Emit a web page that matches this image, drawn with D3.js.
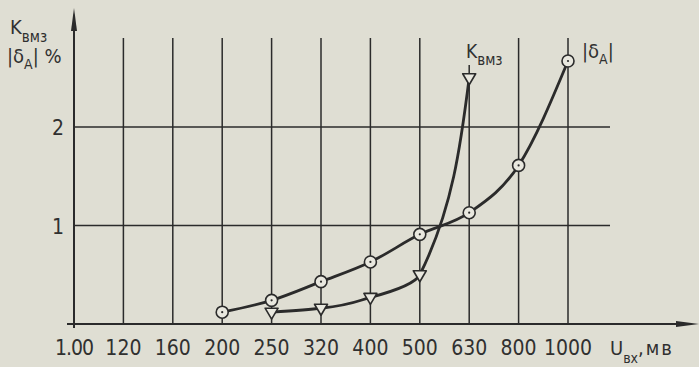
<!DOCTYPE html>
<html><head><meta charset="utf-8">
<script src="https://cdn.jsdelivr.net/npm/d3@7"></script>
<style>
html,body{margin:0;padding:0;background:#dfded3;}
svg{display:block;}
text{font-family:"DejaVu Sans Condensed","DejaVu Sans",Roboto,sans-serif;fill:#303030;}
</style></head>
<body>
<svg id="c" width="699" height="367"></svg>
<script>
// ---- data ----
const xLabels = ["1.00","120","160","200","250","320","400","500","630","800","1000"];
const yTicks = [1, 2];
const deltaCats = ["200","250","320","400","500","630","800","1000"];
const deltaValues = [0.12,0.24,0.43,0.63,0.91,1.13,1.61,2.67];
const kCats = ["250","320","400","500","630"];
const kValues = [0.12,0.16,0.27,0.50,2.50];

const ink = "#2b2b2b";
const svg = d3.select("#c");
svg.append("rect").attr("width",699).attr("height",367).attr("fill","#dfded3");

const x = d3.scalePoint().domain(xLabels).range([74,568]);
const y = d3.scaleLinear().domain([0,2]).range([324,127]);

// vertical grid lines
const g = svg.append("g");
g.selectAll("line.v").data(xLabels.slice(1)).join("line")
  .attr("x1",d=>x(d)).attr("x2",d=>x(d))
  .attr("y1",d=> d==="630" ? 65 : 38).attr("y2",y(0))
  .attr("stroke",ink).attr("stroke-width",1.5);
// horizontal grid lines
g.selectAll("line.h").data(yTicks).join("line")
  .attr("x1",74).attr("x2",610)
  .attr("y1",d=>y(d)).attr("y2",d=>y(d))
  .attr("stroke",ink).attr("stroke-width",1.5);

// axes
svg.append("line").attr("x1",67).attr("x2",685).attr("y1",y(0)).attr("y2",y(0))
  .attr("stroke",ink).attr("stroke-width",2);
svg.append("path").attr("d",`M676,${y(0)-3} L699,${y(0)} L676,${y(0)+3} Z`).attr("fill",ink);
svg.append("line").attr("x1",74).attr("x2",74).attr("y1",328).attr("y2",20)
  .attr("stroke",ink).attr("stroke-width",2);
svg.append("path").attr("d","M71,31 L74,8 L77,31 Z").attr("fill",ink);

// tick labels
svg.selectAll("text.xt").data(xLabels).join("text")
  .attr("x",d=>x(d)).attr("y",355).attr("text-anchor","middle")
  .attr("font-size",21).attr("letter-spacing",d=>d==="1.00"?-1:0).text(d=>d);
svg.selectAll("text.yt").data(yTicks).join("text")
  .attr("x",58).attr("y",d=>y(d)+8).attr("text-anchor","middle")
  .attr("font-size",21).text(d=>d);

// curves
const deltaPts = deltaCats.map((c,i)=>[x(c), y(deltaValues[i])]);
const kPts = kCats.map((c,i)=>[x(c), y(kValues[i])]);
svg.append("path").attr("d", d3.line().curve(d3.curveMonotoneX)(deltaPts))
  .attr("fill","none").attr("stroke",ink).attr("stroke-width",2.8);
svg.append("path").attr("d", d3.line().curve(d3.curveMonotoneY)(kPts))
  .attr("fill","none").attr("stroke",ink).attr("stroke-width",2.8);

// markers
const cm = svg.selectAll("g.cm").data(deltaPts).join("g")
  .attr("transform",d=>`translate(${d[0]},${d[1]})`);
cm.append("circle").attr("r",6).attr("fill","#e9e8df").attr("stroke",ink).attr("stroke-width",1.6);
cm.append("circle").attr("r",1.1).attr("fill",ink);
svg.selectAll("path.tm").data(kPts).join("path")
  .attr("transform",d=>`translate(${d[0]},${d[1]})`)
  .attr("d","M-6.5,-4 L6.5,-4 L0,7 Z")
  .attr("fill","#e9e8df").attr("stroke",ink).attr("stroke-width",1.6).attr("stroke-linejoin","round");

// labels
function sub(x0,y0,main,subt,fs,sfs,dy,extra,ls){
  const t = svg.append("text").attr("x",x0).attr("y",y0).attr("font-size",fs);
  t.append("tspan").text(main);
  t.append("tspan").attr("font-size",sfs).attr("dy",dy).text(subt);
  if(extra){ t.append("tspan").attr("dy",-dy).attr("letter-spacing",ls||0).text(extra); }
  return t;
}
sub(10,34,"K","вмз",20,15,8);
sub(7,63,"|δ","A",20,14,6,"| %");
sub(466,58,"K","вмз",19,15,7);
sub(582,58,"|δ","A",20,14,6,"|");
sub(610,355,"U","вх",20,14,8,",мв",2);
</script>
</body></html>
